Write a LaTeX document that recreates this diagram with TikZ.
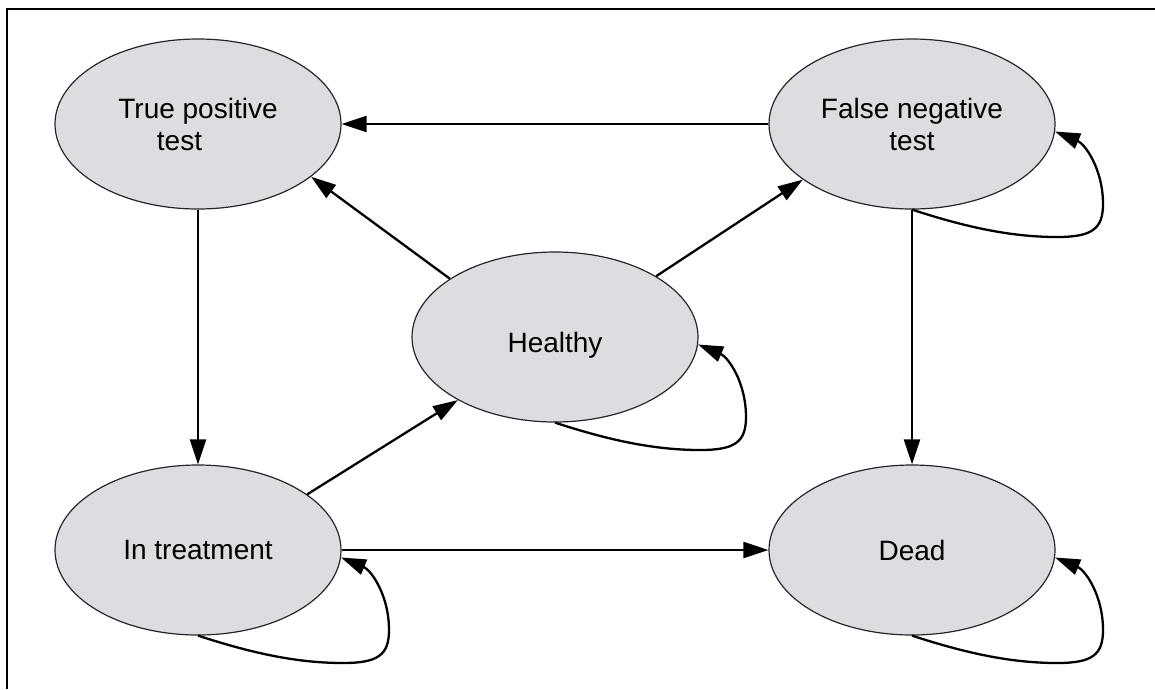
\documentclass[tikz,border=0pt]{standalone}
\usepackage{fontspec}
\setmainfont{Liberation Sans}
\usetikzlibrary{shapes.geometric,arrows.meta}
\definecolor{statefill}{RGB}{220,221,224}
% self-transition: leaves the bottom of a state and returns on its right side
\newcommand\stateloop[1]{%
  \draw[conn] (#1.south)
    .. controls ([shift={(55,18)}]#1.south) and ([shift={(100,113)}]#1.center)
    .. ([shift={(145,113)}]#1.center)
    .. controls ([shift={(180,113)}]#1.center) and ([shift={(191,105)}]#1.center)
    .. ([shift={(191,80)}]#1.center)
    .. controls ([shift={(191,45)}]#1.center) and ([shift={(173,20)}]#1.center)
    .. (#1.-3);}
\begin{document}
\begin{tikzpicture}[x=1pt,y=-1pt,
  state/.style={ellipse,draw=black!85,line width=1.2pt,fill=statefill,
    minimum width=286pt,minimum height=170pt,inner sep=0pt,align=center,
    font=\fontsize{28}{32}\selectfont},
  conn/.style={line width=2.3pt,-{Triangle[length=25pt,width=16pt]}},
  frame/.style={line width=1.5pt}]
\useasboundingbox (0,0) rectangle (1155,689);

% open frame: top and left rules
\coordinate (fbl) at (7,689);
\coordinate (ftl) at (7,9);
\coordinate (ftr) at (1155,9);
\draw[frame] (fbl) -- (ftl) -- (ftr);

% states
\node[state] (tp) at (198,124) {True positive\\\hspace*{-37pt}test};
\node[state] (fn) at (912,124) {False negative\\test};
\node[state,text height=30pt,text depth=0pt] (hl) at (555,337) {Healthy};
\node[state] (it) at (198,550) {In treatment};
\node[state] (dd) at (912,550) {Dead};

% transitions
\draw[conn] (fn.west) -- (tp.east);
\draw[conn] (hl.151) -- (tp.-25);
\draw[conn] (hl.31) -- (fn.207);
\draw[conn] (tp.south) -- (it.north);
\draw[conn] (fn.south) -- (dd.north);
\draw[conn] (it.27) -- (hl.213);
\draw[conn] (it.east) -- (dd.west);

% self-transitions
\stateloop{fn}
\stateloop{hl}
\stateloop{it}
\stateloop{dd}
\end{tikzpicture}
\end{document}
